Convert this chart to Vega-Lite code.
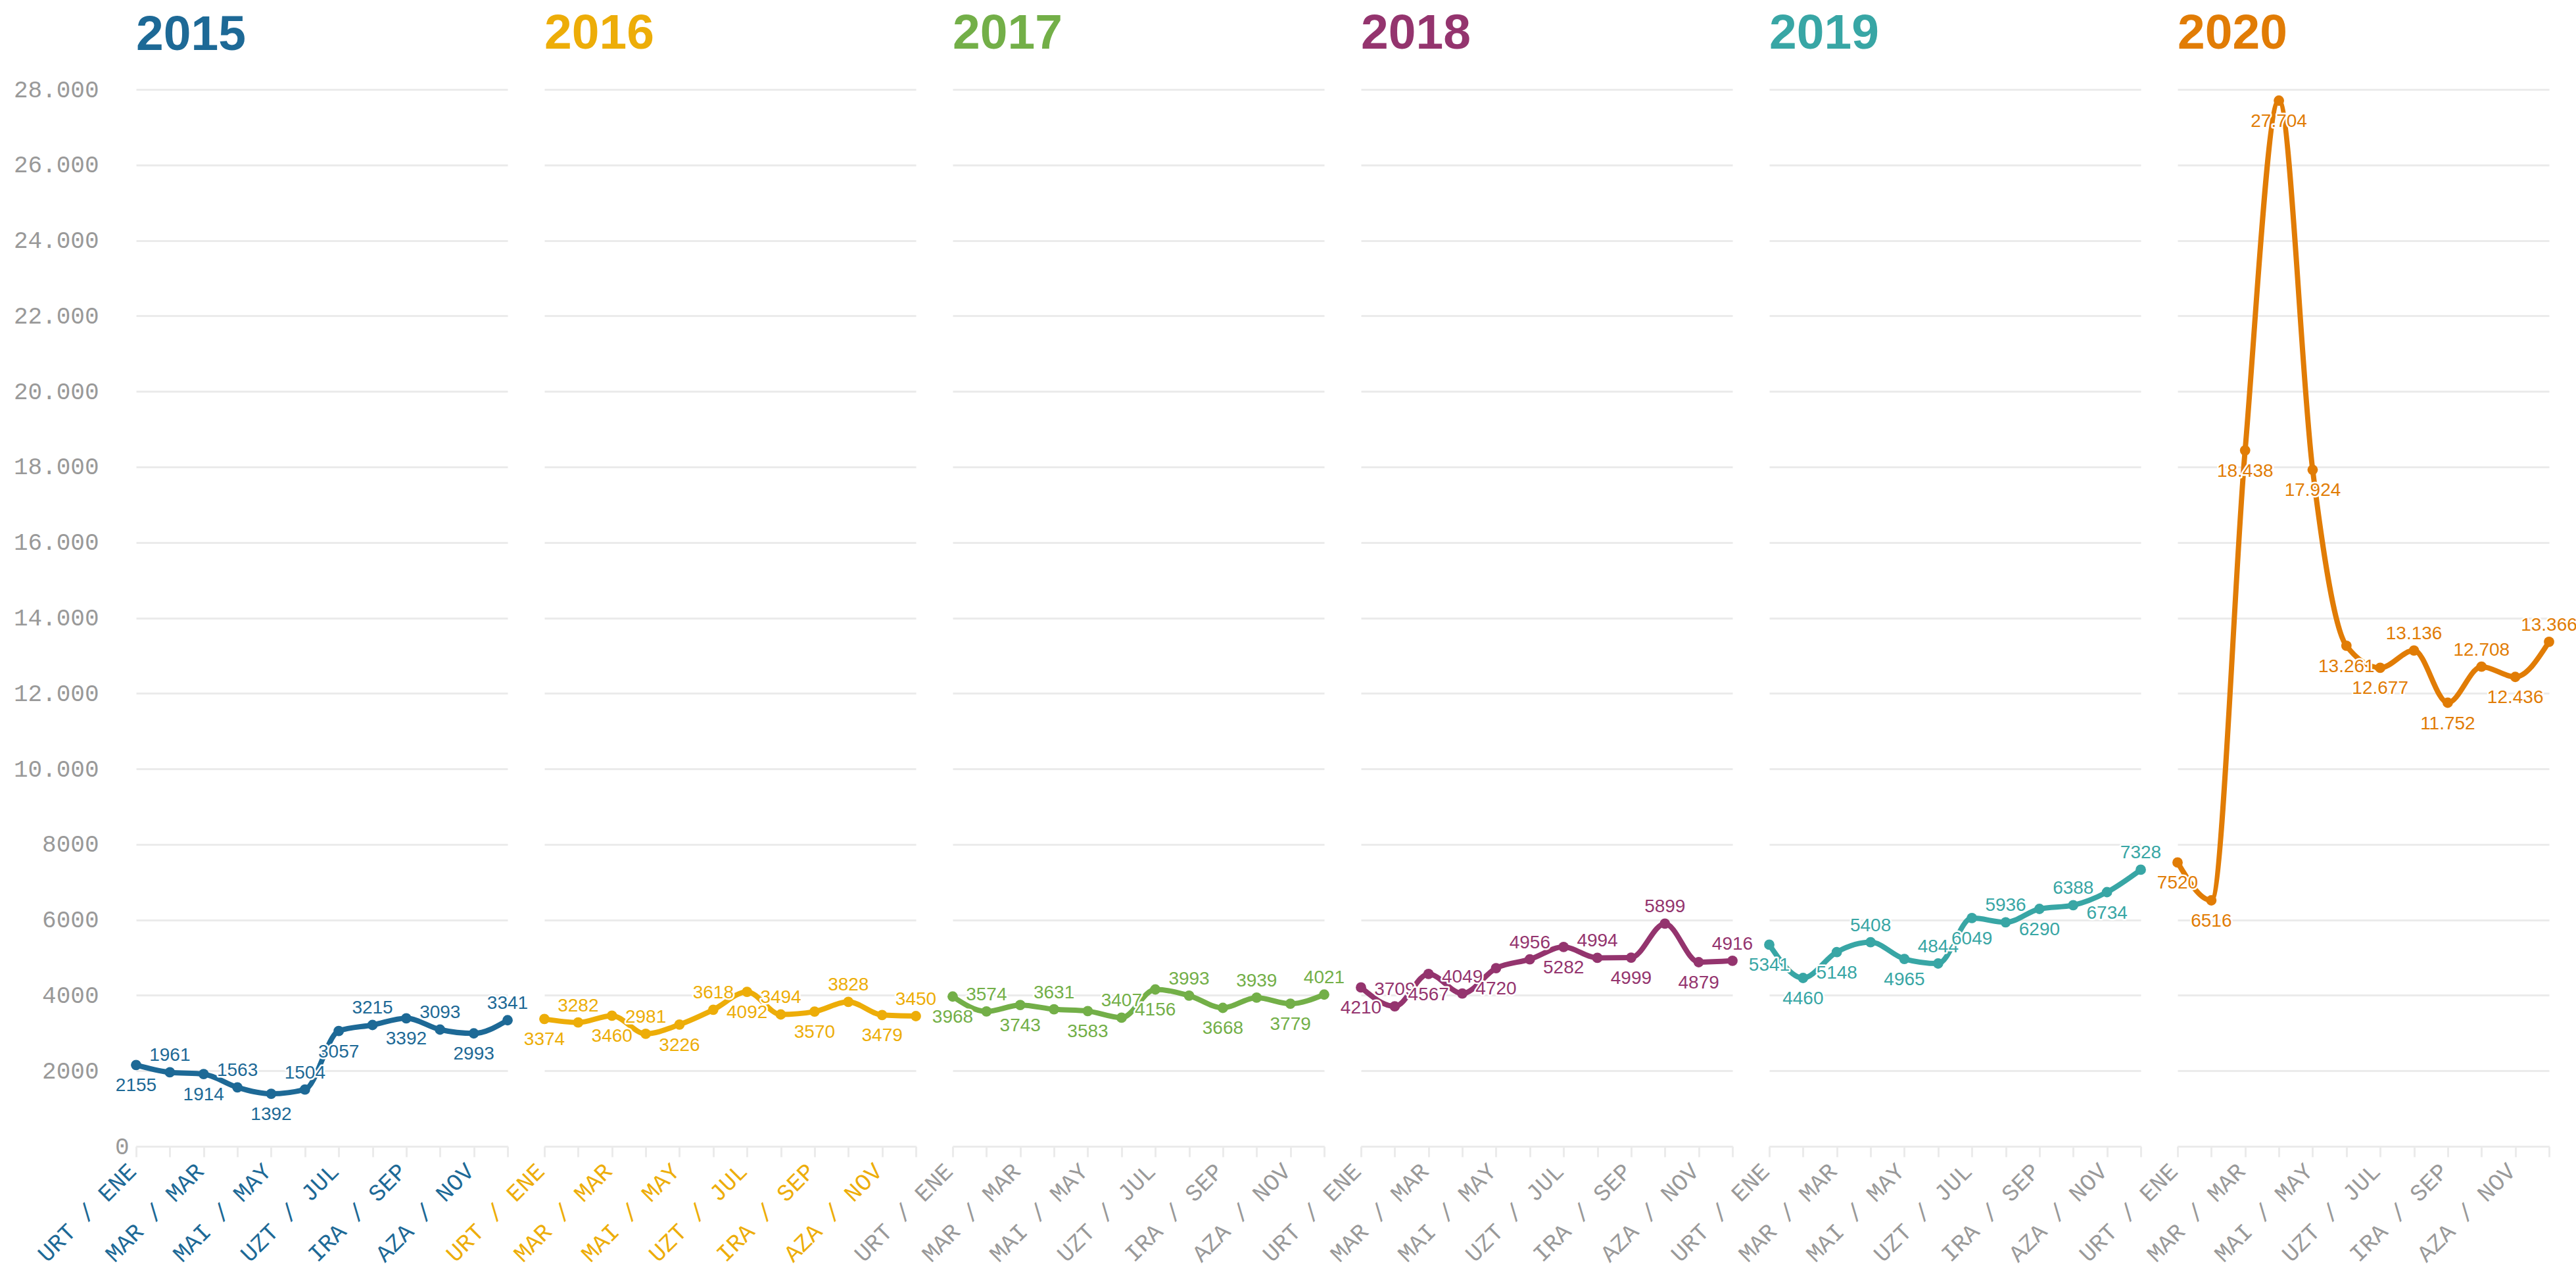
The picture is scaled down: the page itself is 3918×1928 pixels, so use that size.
{
  "$schema": "https://vega.github.io/schema/vega-lite/v6.json",
  "background": "white",
  "padding": {"left": 20, "top": 14, "right": 6, "bottom": 8},
  "spacing": 56,
  "bounds": "flush",
  "data": {"values": [
    {"year": 2015, "month": 1, "value": 2155}, {"year": 2015, "month": 2, "value": 1961}, {"year": 2015, "month": 3, "value": 1914}, {"year": 2015, "month": 4, "value": 1563}, {"year": 2015, "month": 5, "value": 1392}, {"year": 2015, "month": 6, "value": 1504}, {"year": 2015, "month": 7, "value": 3057}, {"year": 2015, "month": 8, "value": 3215}, {"year": 2015, "month": 9, "value": 3392}, {"year": 2015, "month": 10, "value": 3093}, {"year": 2015, "month": 11, "value": 2993}, {"year": 2015, "month": 12, "value": 3341},
    {"year": 2016, "month": 1, "value": 3374}, {"year": 2016, "month": 2, "value": 3282}, {"year": 2016, "month": 3, "value": 3460}, {"year": 2016, "month": 4, "value": 2981}, {"year": 2016, "month": 5, "value": 3226}, {"year": 2016, "month": 6, "value": 3618}, {"year": 2016, "month": 7, "value": 4092}, {"year": 2016, "month": 8, "value": 3494}, {"year": 2016, "month": 9, "value": 3570}, {"year": 2016, "month": 10, "value": 3828}, {"year": 2016, "month": 11, "value": 3479}, {"year": 2016, "month": 12, "value": 3450},
    {"year": 2017, "month": 1, "value": 3968}, {"year": 2017, "month": 2, "value": 3574}, {"year": 2017, "month": 3, "value": 3743}, {"year": 2017, "month": 4, "value": 3631}, {"year": 2017, "month": 5, "value": 3583}, {"year": 2017, "month": 6, "value": 3407}, {"year": 2017, "month": 7, "value": 4156}, {"year": 2017, "month": 8, "value": 3993}, {"year": 2017, "month": 9, "value": 3668}, {"year": 2017, "month": 10, "value": 3939}, {"year": 2017, "month": 11, "value": 3779}, {"year": 2017, "month": 12, "value": 4021},
    {"year": 2018, "month": 1, "value": 4210}, {"year": 2018, "month": 2, "value": 3709}, {"year": 2018, "month": 3, "value": 4567}, {"year": 2018, "month": 4, "value": 4049}, {"year": 2018, "month": 5, "value": 4720}, {"year": 2018, "month": 6, "value": 4956}, {"year": 2018, "month": 7, "value": 5282}, {"year": 2018, "month": 8, "value": 4994}, {"year": 2018, "month": 9, "value": 4999}, {"year": 2018, "month": 10, "value": 5899}, {"year": 2018, "month": 11, "value": 4879}, {"year": 2018, "month": 12, "value": 4916},
    {"year": 2019, "month": 1, "value": 5341}, {"year": 2019, "month": 2, "value": 4460}, {"year": 2019, "month": 3, "value": 5148}, {"year": 2019, "month": 4, "value": 5408}, {"year": 2019, "month": 5, "value": 4965}, {"year": 2019, "month": 6, "value": 4844}, {"year": 2019, "month": 7, "value": 6049}, {"year": 2019, "month": 8, "value": 5936}, {"year": 2019, "month": 9, "value": 6290}, {"year": 2019, "month": 10, "value": 6388}, {"year": 2019, "month": 11, "value": 6734}, {"year": 2019, "month": 12, "value": 7328},
    {"year": 2020, "month": 1, "value": 7520}, {"year": 2020, "month": 2, "value": 6516}, {"year": 2020, "month": 3, "value": 18438}, {"year": 2020, "month": 4, "value": 27704}, {"year": 2020, "month": 5, "value": 17924}, {"year": 2020, "month": 6, "value": 13261}, {"year": 2020, "month": 7, "value": 12677}, {"year": 2020, "month": 8, "value": 13136}, {"year": 2020, "month": 9, "value": 11752}, {"year": 2020, "month": 10, "value": 12708}, {"year": 2020, "month": 11, "value": 12436}, {"year": 2020, "month": 12, "value": 13366}
  ]},
  "transform": [
    {"calculate": "datum.value >= 10000 ? replace(format(datum.value, ','), ',', '.') : format(datum.value, 'd')", "as": "lab"}
  ],
  "resolve": {"scale": {"x": "independent", "y": "independent"}},
  "hconcat": [
    {
      "width": 565, "height": 1607,
      "title": {"text": "2015", "color": "#1d6996", "offset": 26},
      "transform": [{"filter": "datum.year == 2015"}],
      "encoding": {
        "x": {"field": "month", "type": "ordinal", "scale": {"padding": 0}, "axis": {"title": null, "labelColor": "#1d6996", "labelExpr": "['URT / ENE','','MAR / MAR','','MAI / MAY','','UZT / JUL','','IRA / SEP','','AZA / NOV',''][datum.value - 1]"}},
        "y": {"field": "value", "type": "quantitative", "scale": {"domain": [0, 28000], "nice": false}, "axis": {"title": null, "values": [0, 2000, 4000, 6000, 8000, 10000, 12000, 14000, 16000, 18000, 20000, 22000, 24000, 26000, 28000], "domain": false, "ticks": false, "grid": true, "labelExpr": "datum.value >= 10000 ? replace(format(datum.value, ','), ',', '.') : format(datum.value, 'd')", "labelPadding": {"condition": {"test": "datum.value == 0", "value": 11}, "value": 57}}}
      },
      "layer": [
        {"mark": {"type": "line", "interpolate": "monotone", "color": "#1d6996", "strokeWidth": 8}},
        {"mark": {"type": "circle", "color": "#1d6996", "size": 250, "opacity": 1}},
        {"transform": [{"filter": "datum.month % 2 == 0"}], "mark": {"type": "text", "baseline": "alphabetic", "dy": -17, "fill": "white", "stroke": "white", "strokeWidth": 5, "strokeJoin": "round"}, "encoding": {"text": {"field": "lab"}}},
        {"transform": [{"filter": "datum.month % 2 == 0"}], "mark": {"type": "text", "baseline": "alphabetic", "dy": -17, "color": "#1d6996"}, "encoding": {"text": {"field": "lab"}}},
        {"transform": [{"filter": "datum.month % 2 == 1"}], "mark": {"type": "text", "baseline": "top", "dy": 18, "fill": "white", "stroke": "white", "strokeWidth": 5, "strokeJoin": "round"}, "encoding": {"text": {"field": "lab"}}},
        {"transform": [{"filter": "datum.month % 2 == 1"}], "mark": {"type": "text", "baseline": "top", "dy": 18, "color": "#1d6996"}, "encoding": {"text": {"field": "lab"}}}
      ]
    },
    {
      "width": 565, "height": 1607,
      "title": {"text": "2016", "color": "#edad08"},
      "transform": [{"filter": "datum.year == 2016"}],
      "encoding": {
        "x": {"field": "month", "type": "ordinal", "scale": {"padding": 0}, "axis": {"title": null, "labelColor": "#edad08", "labelExpr": "['URT / ENE','','MAR / MAR','','MAI / MAY','','UZT / JUL','','IRA / SEP','','AZA / NOV',''][datum.value - 1]"}},
        "y": {"field": "value", "type": "quantitative", "scale": {"domain": [0, 28000], "nice": false}, "axis": {"title": null, "values": [0, 2000, 4000, 6000, 8000, 10000, 12000, 14000, 16000, 18000, 20000, 22000, 24000, 26000, 28000], "domain": false, "ticks": false, "labels": false, "grid": true}}
      },
      "layer": [
        {"mark": {"type": "line", "interpolate": "monotone", "color": "#edad08", "strokeWidth": 8}},
        {"mark": {"type": "circle", "color": "#edad08", "size": 250, "opacity": 1}},
        {"transform": [{"filter": "datum.month % 2 == 0"}], "mark": {"type": "text", "baseline": "alphabetic", "dy": -17, "fill": "white", "stroke": "white", "strokeWidth": 5, "strokeJoin": "round"}, "encoding": {"text": {"field": "lab"}}},
        {"transform": [{"filter": "datum.month % 2 == 0"}], "mark": {"type": "text", "baseline": "alphabetic", "dy": -17, "color": "#edad08"}, "encoding": {"text": {"field": "lab"}}},
        {"transform": [{"filter": "datum.month % 2 == 1"}], "mark": {"type": "text", "baseline": "top", "dy": 18, "fill": "white", "stroke": "white", "strokeWidth": 5, "strokeJoin": "round"}, "encoding": {"text": {"field": "lab"}}},
        {"transform": [{"filter": "datum.month % 2 == 1"}], "mark": {"type": "text", "baseline": "top", "dy": 18, "color": "#edad08"}, "encoding": {"text": {"field": "lab"}}}
      ]
    },
    {
      "width": 565, "height": 1607,
      "title": {"text": "2017", "color": "#73af48"},
      "transform": [{"filter": "datum.year == 2017"}],
      "encoding": {
        "x": {"field": "month", "type": "ordinal", "scale": {"padding": 0}, "axis": {"title": null, "labelExpr": "['URT / ENE','','MAR / MAR','','MAI / MAY','','UZT / JUL','','IRA / SEP','','AZA / NOV',''][datum.value - 1]"}},
        "y": {"field": "value", "type": "quantitative", "scale": {"domain": [0, 28000], "nice": false}, "axis": {"title": null, "values": [0, 2000, 4000, 6000, 8000, 10000, 12000, 14000, 16000, 18000, 20000, 22000, 24000, 26000, 28000], "domain": false, "ticks": false, "labels": false, "grid": true}}
      },
      "layer": [
        {"mark": {"type": "line", "interpolate": "monotone", "color": "#73af48", "strokeWidth": 8}},
        {"mark": {"type": "circle", "color": "#73af48", "size": 250, "opacity": 1}},
        {"transform": [{"filter": "datum.month % 2 == 0"}], "mark": {"type": "text", "baseline": "alphabetic", "dy": -17, "fill": "white", "stroke": "white", "strokeWidth": 5, "strokeJoin": "round"}, "encoding": {"text": {"field": "lab"}}},
        {"transform": [{"filter": "datum.month % 2 == 0"}], "mark": {"type": "text", "baseline": "alphabetic", "dy": -17, "color": "#73af48"}, "encoding": {"text": {"field": "lab"}}},
        {"transform": [{"filter": "datum.month % 2 == 1"}], "mark": {"type": "text", "baseline": "top", "dy": 18, "fill": "white", "stroke": "white", "strokeWidth": 5, "strokeJoin": "round"}, "encoding": {"text": {"field": "lab"}}},
        {"transform": [{"filter": "datum.month % 2 == 1"}], "mark": {"type": "text", "baseline": "top", "dy": 18, "color": "#73af48"}, "encoding": {"text": {"field": "lab"}}}
      ]
    },
    {
      "width": 565, "height": 1607,
      "title": {"text": "2018", "color": "#94346e"},
      "transform": [{"filter": "datum.year == 2018"}],
      "encoding": {
        "x": {"field": "month", "type": "ordinal", "scale": {"padding": 0}, "axis": {"title": null, "labelExpr": "['URT / ENE','','MAR / MAR','','MAI / MAY','','UZT / JUL','','IRA / SEP','','AZA / NOV',''][datum.value - 1]"}},
        "y": {"field": "value", "type": "quantitative", "scale": {"domain": [0, 28000], "nice": false}, "axis": {"title": null, "values": [0, 2000, 4000, 6000, 8000, 10000, 12000, 14000, 16000, 18000, 20000, 22000, 24000, 26000, 28000], "domain": false, "ticks": false, "labels": false, "grid": true}}
      },
      "layer": [
        {"mark": {"type": "line", "interpolate": "monotone", "color": "#94346e", "strokeWidth": 8}},
        {"mark": {"type": "circle", "color": "#94346e", "size": 250, "opacity": 1}},
        {"transform": [{"filter": "datum.month % 2 == 0"}], "mark": {"type": "text", "baseline": "alphabetic", "dy": -17, "fill": "white", "stroke": "white", "strokeWidth": 5, "strokeJoin": "round"}, "encoding": {"text": {"field": "lab"}}},
        {"transform": [{"filter": "datum.month % 2 == 0"}], "mark": {"type": "text", "baseline": "alphabetic", "dy": -17, "color": "#94346e"}, "encoding": {"text": {"field": "lab"}}},
        {"transform": [{"filter": "datum.month % 2 == 1"}], "mark": {"type": "text", "baseline": "top", "dy": 18, "fill": "white", "stroke": "white", "strokeWidth": 5, "strokeJoin": "round"}, "encoding": {"text": {"field": "lab"}}},
        {"transform": [{"filter": "datum.month % 2 == 1"}], "mark": {"type": "text", "baseline": "top", "dy": 18, "color": "#94346e"}, "encoding": {"text": {"field": "lab"}}}
      ]
    },
    {
      "width": 565, "height": 1607,
      "title": {"text": "2019", "color": "#38a6a5"},
      "transform": [{"filter": "datum.year == 2019"}],
      "encoding": {
        "x": {"field": "month", "type": "ordinal", "scale": {"padding": 0}, "axis": {"title": null, "labelExpr": "['URT / ENE','','MAR / MAR','','MAI / MAY','','UZT / JUL','','IRA / SEP','','AZA / NOV',''][datum.value - 1]"}},
        "y": {"field": "value", "type": "quantitative", "scale": {"domain": [0, 28000], "nice": false}, "axis": {"title": null, "values": [0, 2000, 4000, 6000, 8000, 10000, 12000, 14000, 16000, 18000, 20000, 22000, 24000, 26000, 28000], "domain": false, "ticks": false, "labels": false, "grid": true}}
      },
      "layer": [
        {"mark": {"type": "line", "interpolate": "monotone", "color": "#38a6a5", "strokeWidth": 8}},
        {"mark": {"type": "circle", "color": "#38a6a5", "size": 250, "opacity": 1}},
        {"transform": [{"filter": "datum.month % 2 == 0 && datum.month != 2"}], "mark": {"type": "text", "baseline": "alphabetic", "dy": -17, "fill": "white", "stroke": "white", "strokeWidth": 5, "strokeJoin": "round"}, "encoding": {"text": {"field": "lab"}}},
        {"transform": [{"filter": "datum.month % 2 == 0 && datum.month != 2"}], "mark": {"type": "text", "baseline": "alphabetic", "dy": -17, "color": "#38a6a5"}, "encoding": {"text": {"field": "lab"}}},
        {"transform": [{"filter": "datum.month % 2 == 1 || datum.month == 2"}], "mark": {"type": "text", "baseline": "top", "dy": 18, "fill": "white", "stroke": "white", "strokeWidth": 5, "strokeJoin": "round"}, "encoding": {"text": {"field": "lab"}}},
        {"transform": [{"filter": "datum.month % 2 == 1 || datum.month == 2"}], "mark": {"type": "text", "baseline": "top", "dy": 18, "color": "#38a6a5"}, "encoding": {"text": {"field": "lab"}}}
      ]
    },
    {
      "width": 565, "height": 1607,
      "title": {"text": "2020", "color": "#e17c05"},
      "transform": [{"filter": "datum.year == 2020"}],
      "encoding": {
        "x": {"field": "month", "type": "ordinal", "scale": {"padding": 0}, "axis": {"title": null, "labelExpr": "['URT / ENE','','MAR / MAR','','MAI / MAY','','UZT / JUL','','IRA / SEP','','AZA / NOV',''][datum.value - 1]"}},
        "y": {"field": "value", "type": "quantitative", "scale": {"domain": [0, 28000], "nice": false}, "axis": {"title": null, "values": [0, 2000, 4000, 6000, 8000, 10000, 12000, 14000, 16000, 18000, 20000, 22000, 24000, 26000, 28000], "domain": false, "ticks": false, "labels": false, "grid": true}}
      },
      "layer": [
        {"mark": {"type": "line", "interpolate": "monotone", "color": "#e17c05", "strokeWidth": 8}},
        {"mark": {"type": "circle", "color": "#e17c05", "size": 250, "opacity": 1}},
        {"transform": [{"filter": "datum.month >= 8 && datum.month % 2 == 0"}], "mark": {"type": "text", "baseline": "alphabetic", "dy": -17, "fill": "white", "stroke": "white", "strokeWidth": 5, "strokeJoin": "round"}, "encoding": {"text": {"field": "lab"}}},
        {"transform": [{"filter": "datum.month >= 8 && datum.month % 2 == 0"}], "mark": {"type": "text", "baseline": "alphabetic", "dy": -17, "color": "#e17c05"}, "encoding": {"text": {"field": "lab"}}},
        {"transform": [{"filter": "!(datum.month >= 8 && datum.month % 2 == 0)"}], "mark": {"type": "text", "baseline": "top", "dy": 18, "fill": "white", "stroke": "white", "strokeWidth": 5, "strokeJoin": "round"}, "encoding": {"text": {"field": "lab"}}},
        {"transform": [{"filter": "!(datum.month >= 8 && datum.month % 2 == 0)"}], "mark": {"type": "text", "baseline": "top", "dy": 18, "color": "#e17c05"}, "encoding": {"text": {"field": "lab"}}}
      ]
    }
  ],
  "config": {
    "view": {"stroke": null},
    "axis": {"labelFont": "Liberation Mono", "labelFontSize": 36, "labelColor": "#999999", "gridColor": "#ebebeb", "gridWidth": 3, "domainColor": "#ebebeb", "tickColor": "#ebebeb"},
    "axisX": {"labelAngle": -45, "labelAlign": "right", "labelBaseline": "top", "tickSize": 16, "tickWidth": 3, "domainWidth": 3, "grid": false, "labelPadding": 4, "labelOffset": -18, "labelOverlap": false, "labelBound": false, "labelLimit": 1000},
    "title": {"anchor": "start", "font": "Liberation Sans", "fontSize": 75, "fontWeight": "bold", "offset": 46, "frame": "group"},
    "text": {"font": "Liberation Sans", "fontSize": 28}
  }
}
